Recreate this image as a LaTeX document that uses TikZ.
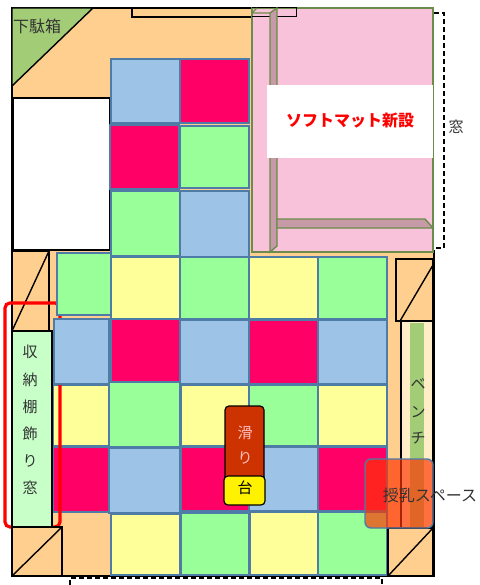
\documentclass[tikz,border=0pt]{standalone}
\usepackage{fontspec}
\newfontfamily\jpfont{Noto Sans CJK JP}
\definecolor{floorc}{HTML}{FFCF8F}
\definecolor{tileb}{HTML}{9DC3E6}
\definecolor{tiler}{HTML}{FF0066}
\definecolor{tileg}{HTML}{99FF99}
\definecolor{tiley}{HTML}{FFFF99}
\definecolor{tileedge}{HTML}{4F7CA6}
\definecolor{matc}{HTML}{F8C2DA}
\definecolor{matdark}{HTML}{C79AA8}
\definecolor{matedge}{HTML}{6B8C4A}
\definecolor{shoec}{HTML}{A2CC76}
\definecolor{panelc}{HTML}{C8FFC8}
\definecolor{benchc}{HTML}{FFEDC8}
\definecolor{slidec}{HTML}{CC3300}
\definecolor{nursec}{HTML}{FF3300}
\definecolor{labelc}{HTML}{333333}
\begin{document}
\begin{tikzpicture}[x=1pt, y=-1pt, every node/.style={font=\jpfont\fontsize{15}{15}\selectfont, text=labelc, inner sep=0pt},
   wall/.style={draw=black, line width=1.4pt},
   tile/.style={draw=tileedge, line width=1.4pt},
   mat/.style={draw=matedge, line width=1.4pt},
   gap/.style={draw=black, line width=1.2pt, dash pattern=on 5pt off 3pt}]
   \useasboundingbox (0,0) rectangle (479,585);

   % floor
   \fill[floorc] (12,8) rectangle (434,576);
   \draw[wall] (296,8) -- (12,8) -- (12,576) -- (434,576) -- (434,250);
   \draw[wall, fill=floorc] (132,8) rectangle (296,17);
   \draw[wall, fill=shoec] (12,8) -- (93,8) -- (12,86) -- cycle;
   \node[font=\jpfont\fontsize{16}{16}\selectfont] (shoebox) at (37,26) {下駄箱};
   \draw[wall, fill=white] (13,98) rectangle (110,250);

   % mat
   \draw[mat, fill=matc] (252,8) rectangle (433,252);
   \draw[black, line width=1pt] (252,17) -- (296,17) -- (296,8) -- (252,8);
   \draw[mat, fill=matdark] (270,13) -- (277,8) -- (277,246) -- (270,252) -- cycle;
   \draw[mat] (252,13) -- (257,8) (252,13) -- (270,13);
   \draw[mat, fill=matdark] (277,219) -- (425,219) -- (433,228) -- (277,228) -- cycle;
   \fill[white] (267,85) rectangle (433,158);
   \node[font=\jpfont\bfseries\fontsize{16}{16}\selectfont, text=red] (softmat) at (350,121) {ソフトマット新設};

   % tiles
   \foreach \xa/\ya/\xb/\yb/\col in {
      111/59/180/123/tileb, 180/59/249/123/tiler, 110/125/179/189/tiler, 180/126/249/188/tileg,
      111/191/180/256/tileg, 180/191/249/257/tileb,
      111/257/180/319/tiley, 180/257/249/319/tileg, 249/257/318/319/tiley, 318/257/387/319/tileg,
      111/319/180/382/tiler, 180/320/249/384/tileb, 249/320/318/384/tiler, 318/320/387/384/tileb,
      53/385/109/446/tiley, 181/385/249/446/tiley, 249/385/318/446/tileg, 318/385/387/446/tiley,
      109/382/180/447/tileg, 181/447/249/511/tiler, 249/447/318/511/tileb, 318/447/387/511/tiler,
      53/447/109/512/tiler, 109/448/180/513/tileb,
      111/514/180/575/tiley, 181/513/249/575/tileg, 250/512/318/575/tiley, 318/512/387/575/tileg}
      \draw[tile, fill=\col] (\xa,\ya) rectangle (\xb,\yb);

   % storage
   \draw[wall, fill=floorc] (12,251) rectangle (49,331);
   \draw[wall] (12,331) -- (49,251);
   \draw[red, line width=3.2pt, rounded corners=5pt] (5,303) rectangle (60,527);
   \draw[tile, fill=tileg] (57,253) rectangle (111,315);
   \draw[tile, fill=tileb] (54,319) rectangle (109,384);
   \draw[wall, fill=panelc] (12,331) rectangle (52,527);
   \draw[wall, fill=floorc] (12,527) rectangle (62,576);
   \draw[wall] (12,576) -- (62,527);
   \node (shu) at (30,352) {収};
   \node (nou) at (30,380) {納};
   \node (tana) at (30,407) {棚};
   \node (kaza) at (30,434) {飾};
   \node (ri) at (30,461) {り};
   \node (mado) at (30,488) {窓};

   % bench
   \draw[wall, fill=floorc] (396,259) rectangle (433,321);
   \draw[wall] (400,321) -- (433,265);
   \draw[wall, fill=benchc] (401,321) rectangle (433,528);
   \fill[shoec] (410,323) rectangle (424,528);
   \node (be) at (418,384) {ベ};
   \node (n) at (418,412) {ン};
   \node (chi) at (418,438) {チ};
   \draw[wall, fill=floorc] (388,528) rectangle (433,576);
   \draw[wall] (388,576) -- (433,528);

   % slide
   \draw[black, line width=1.2pt, fill=slidec, rounded corners=4pt] (225,406) rectangle (264,490);
   \draw[black, line width=1.2pt, fill=yellow, rounded corners=4pt] (224,476) rectangle (265,505);
   \node[text=white!75!red] (suberi) at (245,433) {滑};
   \node[text=white!75!red] (ri2) at (245,458) {り};
   \node[text=black] (dai) at (245,488) {台};

   % nursing space
   \draw[tile, fill=nursec, fill opacity=.67, rounded corners=6pt] (365,459) rectangle (433,528);
   \node[font=\jpfont\fontsize{16}{16}\selectfont] (junyu) at (430,495) {授乳スペース};

   % windows
   \coordinate (wa) at (434,13);
   \coordinate (wb) at (444,13);
   \coordinate (wc) at (444,248);
   \coordinate (wd) at (434,248);
   \draw[gap] (wa) -- (wb) -- (wc) -- (wd);
   \node (win) at (456,127) {窓};
   \coordinate (da) at (70,585);
   \coordinate (db) at (70,578);
   \coordinate (dc) at (382,578);
   \coordinate (dd) at (382,585);
   \draw[gap] (da) -- (db) -- (dc) -- (dd);
\end{tikzpicture}
\end{document}
